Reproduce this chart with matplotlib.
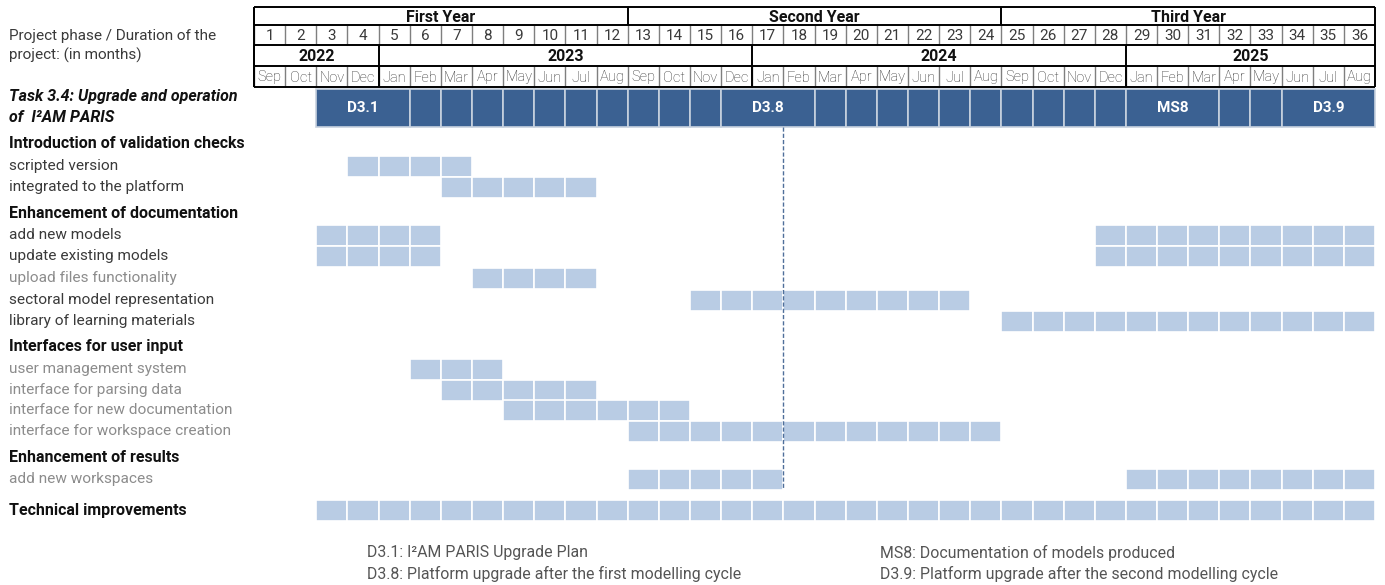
import matplotlib.pyplot as plt
from matplotlib.patches import Rectangle

plt.rcParams['font.family'] = ['Roboto', 'DejaVu Sans']

# --- data -------------------------------------------------------------
n_months = 36
month_names = ["Sep", "Oct", "Nov", "Dec", "Jan", "Feb", "Mar", "Apr",
               "May", "Jun", "Jul", "Aug"] * 3
project_years = ["First Year", "Second Year", "Third Year"]
year_spans = [(1, 12), (13, 24), (25, 36)]
calendar_years = ["2022", "2023", "2024", "2025"]
calendar_spans = [(1, 4), (5, 16), (17, 28), (29, 36)]

task_title = "Task 3.4: Upgrade and operation\nof  I\u00b2AM PARIS"
task_span = (3, 36)
milestones = ["D3.1", "D3.8", "MS8", "D3.9"]
milestone_spans = [(3, 5), (16, 18), (29, 31), (34, 36)]

sections = ["Introduction of validation checks", "Enhancement of documentation",
            "Interfaces for user input", "Enhancement of results",
            "Technical improvements"]
subtasks = [
    ["scripted version", "integrated to the platform"],
    ["add new models", "update existing models", "upload files functionality",
     "sectoral model representation", "library of learning materials"],
    ["user management system", "interface for parsing data",
     "interface for new documentation", "interface for workspace creation"],
    ["add new workspaces"],
    [],
]
subtask_spans = [
    [[(4, 7)], [(7, 11)]],
    [[(3, 6), (28, 36)], [(3, 6), (28, 36)], [(8, 11)], [(15, 23)], [(25, 36)]],
    [[(6, 8)], [(7, 11)], [(9, 14)], [(13, 24)]],
    [[(13, 17), (29, 36)]],
    [],
]
section_spans = [None, None, None, None, [(3, 36)]]
cycle_end_month = 17

notes_left = ["D3.1: I\u00b2AM PARIS Upgrade Plan",
              "D3.8: Platform upgrade after the first modelling cycle"]
notes_right = ["MS8: Documentation of models produced",
               "D3.9: Platform upgrade after the second modelling cycle"]

# --- layout / style ---------------------------------------------------
W, H = 1385, 585
GRID_LEFT, CELL = 254, 31.14
DARK = "#3b6192"
LIGHT = "#b9cce4"
TXT = "#3a3a3a"
LIGHT_TXT = "#8c8c8c"
light_rows = {"upload files functionality", "user management system",
              "interface for parsing data", "interface for new documentation",
              "interface for workspace creation", "add new workspaces"}

fig = plt.figure(figsize=(W / 100, H / 100), dpi=100)
ax = fig.add_axes([0, 0, 1, 1])
ax.set_xlim(-GRID_LEFT / CELL, (W - GRID_LEFT) / CELL)
ax.set_ylim(H, 0)
ax.axis("off")

# header table rows (pixel y bounds)
r_year = (7, 25)
r_num = (25, 45)
r_cal = (45, 66)
r_mon = (66, 87)


def hline(y, x0=0, x1=n_months, **kw):
    ax.plot([x0, x1], [y, y], solid_capstyle="butt", **kw)


def vline(x, y0, y1, **kw):
    ax.plot([x, x], [y0, y1], solid_capstyle="butt", **kw)


thick = dict(color="black", lw=1.4)
thin = dict(color="#7f7f7f", lw=1.0)

for name, (a, b) in zip(project_years, year_spans):
    ax.text((a - 1 + b) / 2, sum(r_year) / 2 + 1, name, ha="center", va="center",
            fontsize=11.5, fontweight="bold", color="#111")
    vline(a - 1, r_year[0], r_year[1], **thick)
for m in range(1, n_months + 1):
    ax.text(m - 0.5, sum(r_num) / 2 + 1, str(m), ha="center", va="center",
            fontsize=11, color=TXT)
    ax.text(m - 0.5, sum(r_mon) / 2 + 1, month_names[m - 1], ha="center",
            va="center", fontsize=10.5, fontweight="light", color="#333")
    vline(m - 1, r_num[0], r_num[1], **thin)
    vline(m - 1, r_mon[0], r_mon[1], **thin)
for name, (a, b) in zip(calendar_years, calendar_spans):
    ax.text((a - 1 + b) / 2, sum(r_cal) / 2 + 1, name, ha="center", va="center",
            fontsize=11.5, fontweight="bold", color="#111")
    vline(a - 1, r_cal[0], r_cal[1], **thick)
    vline(a - 1, r_mon[0], r_mon[1], **thick)
for y in (r_year[0], r_num[0], r_cal[0], r_mon[0], r_mon[1]):
    hline(y, **thick)
vline(0, r_year[0], r_mon[1], **thick)
vline(n_months, r_year[0], r_mon[1], **thick)

label_x = (9 - GRID_LEFT) / CELL
ax.text(label_x, 46, "Project phase / Duration of the\nproject: (in months)",
        ha="left", va="center", fontsize=11, color=TXT, linespacing=1.45)

# task bar with milestones
task_y = (89, 127)
ax.text(label_x, 107, task_title, ha="left", va="center", fontsize=11.5,
        fontweight="bold", style="italic", color="#111", linespacing=1.55)
m = task_span[0]
while m <= task_span[1]:
    width = 1
    label = None
    for ms, (a, b) in zip(milestones, milestone_spans):
        if a == m:
            width = b - a + 1
            label = ms
    ax.add_patch(Rectangle((m - 1, task_y[0]), width, task_y[1] - task_y[0],
                           facecolor=DARK, edgecolor="#c8d2df", lw=1.2))
    if label:
        ax.text(m - 1 + width / 2, sum(task_y) / 2, label, ha="center",
                va="center", fontsize=11, fontweight="bold", color="white")
    m += width

# task rows
section_y = [144, 213, 347, 458, 510]
row_y = [[166, 187], [235, 256, 278, 300, 321], [369, 390, 410, 431], [479], []]
row_h = 21

for sec, sy, names, spans_list, ys, sspan in zip(sections, section_y, subtasks,
                                                  subtask_spans, row_y, section_spans):
    ax.text(label_x, sy, sec, ha="left", va="center", fontsize=11.5,
            fontweight="bold", color="#111")
    if sspan:
        for a, b in sspan:
            months = list(range(a, b + 1))
            ax.bar([mm - 1 for mm in months], row_h, bottom=sy - row_h / 2,
                   width=1, align="edge", color=LIGHT, edgecolor="white", lw=1.2)
    for name, spans, y in zip(names, spans_list, ys):
        col = LIGHT_TXT if name in light_rows else TXT
        ax.text(label_x, y, name, ha="left", va="center", fontsize=11.1,
                color=col)
        for a, b in spans:
            months = list(range(a, b + 1))
            ax.bar([mm - 1 for mm in months], row_h, bottom=y - row_h / 2,
                   width=1, align="edge", color=LIGHT, edgecolor="white", lw=1.2)

ax.plot([cycle_end_month, cycle_end_month], [127, 489], color="#4f6f9a",
        lw=1.0, ls=(0, (3, 1.5)))

# notes
for i, t in enumerate(notes_left):
    ax.text((367 - GRID_LEFT) / CELL, 553 + 21 * i, t, ha="left", va="center",
            fontsize=11.4, color="#555")
for i, t in enumerate(notes_right):
    ax.text((880 - GRID_LEFT) / CELL, 553 + 21 * i, t, ha="left", va="center",
            fontsize=11.4, color="#555")

fig.savefig("out.png", dpi=100)
